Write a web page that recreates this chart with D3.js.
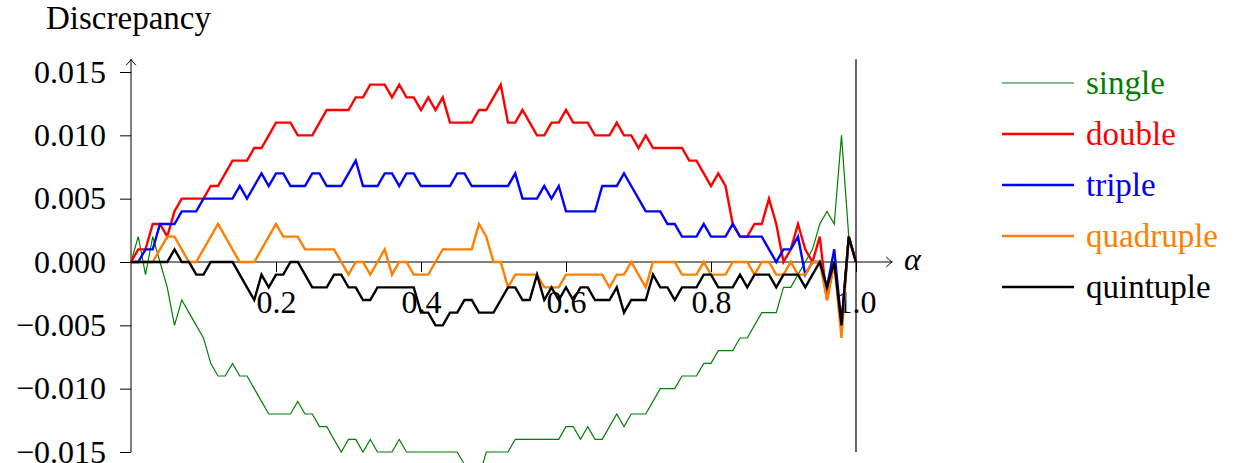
<!DOCTYPE html>
<html>
<head>
<meta charset="utf-8">
<script src="https://cdn.jsdelivr.net/npm/d3@7"></script>
<style>
  html, body { margin: 0; padding: 0; background: #fff; }
  svg { display: block; }
  text { font-family: "Liberation Serif", "Times New Roman", serif; }
</style>
</head>
<body>
<svg id="chart" width="1236" height="463"></svg>
<script>
// alpha sampled every 0.01 from 0 to 1
const alphas = d3.range(101).map(i => i / 100);

const singleVals = [
  0, 0.002, -0.001, 0.002, 0, -0.002, -0.005, -0.003, -0.004, -0.005,
  -0.006, -0.008, -0.009, -0.009, -0.008, -0.009, -0.009, -0.010, -0.011, -0.012,
  -0.012, -0.012, -0.012, -0.011, -0.012, -0.012, -0.013, -0.013, -0.014, -0.015,
  -0.014, -0.014, -0.015, -0.014, -0.015, -0.015, -0.015, -0.014, -0.015, -0.015,
  -0.015, -0.015, -0.015, -0.015, -0.015, -0.015, -0.016, -0.017, -0.017, -0.015,
  -0.015, -0.015, -0.015, -0.014, -0.014, -0.014, -0.014, -0.014, -0.014, -0.014,
  -0.013, -0.013, -0.014, -0.013, -0.014, -0.014, -0.013, -0.012, -0.013, -0.012,
  -0.012, -0.012, -0.011, -0.010, -0.010, -0.010, -0.009, -0.009, -0.009, -0.008,
  -0.008, -0.007, -0.007, -0.007, -0.006, -0.006, -0.005, -0.004, -0.004, -0.004,
  -0.002, -0.002, -0.001, 0, 0.001, 0.003, 0.004, 0.003, 0.010, 0.002,
  0
];

const doubleVals = [
  0, 0.001, 0.001, 0.003, 0.003, 0.002, 0.004, 0.005, 0.005, 0.005,
  0.005, 0.006, 0.006, 0.007, 0.008, 0.008, 0.008, 0.009, 0.009, 0.010,
  0.011, 0.011, 0.011, 0.010, 0.010, 0.010, 0.011, 0.012, 0.012, 0.012,
  0.012, 0.013, 0.013, 0.014, 0.014, 0.014, 0.013, 0.014, 0.013, 0.013,
  0.012, 0.013, 0.012, 0.013, 0.011, 0.011, 0.011, 0.011, 0.012, 0.012,
  0.013, 0.014, 0.011, 0.011, 0.012, 0.011, 0.010, 0.010, 0.011, 0.011,
  0.012, 0.011, 0.011, 0.011, 0.010, 0.010, 0.010, 0.011, 0.010, 0.010,
  0.009, 0.010, 0.009, 0.009, 0.009, 0.009, 0.009, 0.008, 0.008, 0.007,
  0.006, 0.007, 0.006, 0.003, 0.002, 0.002, 0.003, 0.003, 0.005, 0.003,
  0, 0.001, 0.003, 0.001, 0, 0.002, -0.003, 0, -0.005, 0.002,
  0
];

const tripleVals = [
  0, 0, 0.001, 0.001, 0.003, 0.003, 0.003, 0.004, 0.004, 0.004,
  0.005, 0.005, 0.005, 0.005, 0.005, 0.006, 0.005, 0.006, 0.007, 0.006,
  0.007, 0.007, 0.006, 0.006, 0.006, 0.007, 0.007, 0.006, 0.006, 0.006,
  0.007, 0.008, 0.006, 0.006, 0.006, 0.007, 0.007, 0.006, 0.007, 0.007,
  0.006, 0.006, 0.006, 0.006, 0.006, 0.007, 0.007, 0.006, 0.006, 0.006,
  0.006, 0.006, 0.006, 0.007, 0.005, 0.005, 0.005, 0.006, 0.005, 0.006,
  0.004, 0.004, 0.004, 0.004, 0.004, 0.006, 0.006, 0.006, 0.007, 0.006,
  0.005, 0.004, 0.004, 0.004, 0.003, 0.003, 0.002, 0.002, 0.002, 0.003,
  0.002, 0.002, 0.002, 0.003, 0.002, 0.002, 0.002, 0.002, 0.001, 0,
  0.001, 0.001, 0.002, -0.001, 0, 0, -0.002, 0.001, -0.005, 0.002,
  0
];

const quadrupleVals = [
  0, 0, 0, 0, 0.001, 0.002, 0.002, 0.001, 0, 0,
  0.001, 0.002, 0.003, 0.002, 0.001, 0, 0, 0, 0.001, 0.002,
  0.003, 0.002, 0.002, 0.002, 0.001, 0.001, 0.001, 0.001, 0.001, 0,
  -0.001, 0, 0, -0.001, 0, 0.001, -0.001, 0, 0, -0.001,
  -0.001, -0.001, 0, 0.001, 0.001, 0.001, 0.001, 0.001, 0.003, 0.002,
  0, 0, -0.002, -0.001, -0.001, -0.001, -0.001, -0.002, -0.002, -0.002,
  -0.001, -0.001, -0.001, -0.001, -0.001, -0.001, -0.002, -0.001, -0.001, 0,
  -0.001, -0.002, 0, 0, 0, 0, -0.001, -0.001, -0.001, 0,
  -0.001, -0.001, -0.001, 0, 0, 0, -0.001, 0, 0, -0.001,
  -0.001, 0, -0.001, -0.001, 0, 0, -0.003, 0, -0.006, 0.002,
  0
];

const quintupleVals = [
  0, 0, 0, 0, 0, 0, 0.001, 0, 0, -0.001,
  -0.001, 0, 0, 0, 0, -0.001, -0.002, -0.003, -0.001, -0.002,
  -0.001, -0.001, 0, 0, -0.001, -0.002, -0.002, -0.002, -0.001, -0.001,
  -0.002, -0.002, -0.003, -0.003, -0.002, -0.002, -0.002, -0.002, -0.002, -0.002,
  -0.004, -0.004, -0.005, -0.005, -0.004, -0.004, -0.003, -0.003, -0.004, -0.004,
  -0.004, -0.003, -0.002, -0.002, -0.003, -0.003, -0.001, -0.003, -0.002, -0.003,
  -0.002, -0.003, -0.002, -0.002, -0.003, -0.003, -0.003, -0.002, -0.004, -0.003,
  -0.003, -0.003, -0.001, -0.002, -0.002, -0.003, -0.002, -0.002, -0.002, -0.001,
  -0.001, -0.002, -0.002, -0.002, -0.001, -0.002, -0.001, -0.001, -0.001, -0.002,
  -0.001, -0.001, -0.001, -0.002, -0.001, 0, -0.002, 0, -0.005, 0.002,
  0
];

const seriesNames = ['single', 'double', 'triple', 'quadruple', 'quintuple'];
const seriesColors = ['#008000', '#ff0000', '#0000ff', '#ff8000', '#000000'];
const seriesWidths = [1.2, 2.4, 2.4, 2.4, 2.4];
const seriesValues = [singleVals, doubleVals, tripleVals, quadrupleVals, quintupleVals];

const xTickValues = [0.2, 0.4, 0.6, 0.8, 1.0];
const xTickLabels = ['0.2', '0.4', '0.6', '0.8', '1.0'];
const yTickValues = [0.015, 0.010, 0.005, 0, -0.005, -0.010, -0.015];
const yTickLabels = ['0.015', '0.010', '0.005', '0.000', '\u22120.005', '\u22120.010', '\u22120.015'];

const svg = d3.select('#chart');
const FONT = 32;       // tick labels
const WORD_FONT = 33;  // axis title + legend

const x = d3.scaleLinear().domain([0, 1]).range([131, 856]);
const y = d3.scaleLinear().domain([-0.015, 0.015]).range([452, 72]);

// axis lines (pgfplots "middle" style with arrow tips)
const axisG = svg.append('g').attr('class', 'axes');
axisG.append('line')
  .attr('x1', x(0)).attr('x2', x(1.05))
  .attr('y1', y(0)).attr('y2', y(0))
  .attr('stroke', '#000').attr('stroke-width', 1);
axisG.append('line')
  .attr('x1', x(0)).attr('x2', x(0))
  .attr('y1', y(-0.015)).attr('y2', y(0.016))
  .attr('stroke', '#000').attr('stroke-width', 1);
// vertical line at alpha = 1
axisG.append('line')
  .attr('x1', x(1)).attr('x2', x(1))
  .attr('y1', y(-0.015)).attr('y2', y(0.016))
  .attr('stroke', '#000').attr('stroke-width', 1.2);

// arrow heads
const ax = x(1.05), ay = y(0);
axisG.append('path')
  .attr('d', `M${ax - 6},${ay - 5} Q${ax - 2},${ay - 1} ${ax},${ay} Q${ax - 2},${ay + 1} ${ax - 6},${ay + 5}`)
  .attr('fill', 'none').attr('stroke', '#000').attr('stroke-width', 1);
const bx = x(0), by = y(0.016);
axisG.append('path')
  .attr('d', `M${bx - 5},${by + 6} Q${bx - 1},${by + 2} ${bx},${by} Q${bx + 1},${by + 2} ${bx + 5},${by + 6}`)
  .attr('fill', 'none').attr('stroke', '#000').attr('stroke-width', 1);

// y axis ticks + labels
const yAxis = d3.axisLeft(y)
  .tickValues(yTickValues)
  .tickSize(11)
  .tickPadding(14)
  .tickFormat((d, i) => yTickLabels[i]);
const yG = svg.append('g').attr('transform', `translate(${x(0)},0)`).call(yAxis);
yG.select('.domain').remove();
yG.selectAll('text').attr('font-family', '"Liberation Serif", serif').attr('font-size', FONT).attr('fill', '#000');
yG.selectAll('line').attr('stroke', '#000');

// x axis ticks + labels
const xAxis = d3.axisBottom(x)
  .tickValues(xTickValues)
  .tickSize(10)
  .tickPadding(18)
  .tickFormat((d, i) => xTickLabels[i]);
const xG = svg.append('g').attr('transform', `translate(0,${y(0)})`).call(xAxis);
xG.select('.domain').remove();
xG.selectAll('text').attr('font-family', '"Liberation Serif", serif').attr('font-size', FONT).attr('fill', '#000');
xG.selectAll('line').attr('stroke', '#000');

// axis labels
svg.append('text')
  .attr('x', 46).attr('y', 28.5)
  .attr('font-size', WORD_FONT)
  .text('Discrepancy');
svg.append('text')
  .attr('x', 904).attr('y', 270)
  .attr('font-size', FONT)
  .attr('font-style', 'italic')
  .text('\u03b1');

// series lines
const line = d3.line()
  .x((d, i) => x(alphas[i]))
  .y(d => y(d));

const linesG = svg.append('g').attr('class', 'series');
seriesValues.forEach((vals, k) => {
  linesG.append('path')
    .datum(vals)
    .attr('d', line)
    .attr('fill', 'none')
    .attr('stroke', seriesColors[k])
    .attr('stroke-width', seriesWidths[k])
    .attr('stroke-linejoin', 'miter')
    .attr('stroke-miterlimit', 4);
});

// legend
const legendYs = [83, 134, 185, 236, 287];
const legend = svg.append('g').attr('class', 'legend');
seriesNames.forEach((name, k) => {
  legend.append('line')
    .attr('x1', 1002).attr('x2', 1074)
    .attr('y1', legendYs[k]).attr('y2', legendYs[k])
    .attr('stroke', seriesColors[k])
    .attr('stroke-width', seriesWidths[k]);
  legend.append('text')
    .attr('x', 1086).attr('y', legendYs[k] + 10.5)
    .attr('font-size', WORD_FONT)
    .attr('fill', seriesColors[k])
    .text(name);
});
</script>
</body>
</html>
